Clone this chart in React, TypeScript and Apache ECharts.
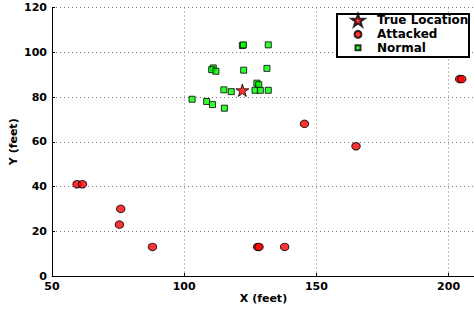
import React, { useEffect, useRef } from "react";
import * as echarts from "echarts";

const trueX = [122];
const trueY = [83];

const attackedX = [59.5, 61.5, 76, 75.5, 88, 127.8, 128.3, 138, 145.5, 165, 204.2, 205];
const attackedY = [41, 41, 30, 23, 13, 13, 13, 13, 68, 58, 88, 88];

const normalX = [103, 108.5, 110.7, 115.2, 115, 117.8, 111, 110.4, 112, 122, 122.4, 131.8, 122.5, 131.3, 127.5, 128.2, 126.8, 128.8, 131.8];
const normalY = [79, 78, 76.6, 75, 83.2, 82.4, 93, 92.2, 91.5, 103, 103.3, 103.3, 92, 92.8, 86.2, 85.5, 83, 83, 83];

const xTicks = [50, 100, 150, 200];
const yTicks = [0, 20, 40, 60, 80, 100, 120];

const FONT = "DejaVu Sans";
const STAR = "path://M0,-10L2.245,-3.09L9.511,-3.09L3.633,1.18L5.878,8.09L0,3.82L-5.878,8.09L-3.633,1.18L-9.511,-3.09L-2.245,-3.09Z";

const zip = (xs: number[], ys: number[]) => xs.map((x, i) => [x, ys[i]]);

export default function App() {
  const ref = useRef<HTMLDivElement>(null);
  useEffect(() => {
    if (!ref.current) return;
    const chart = echarts.init(ref.current, undefined, { renderer: "svg" });
    const iconCenter = 357;
    const textLeft = 376;
    const mkLegend = (name: string, icon: string, w: number, h: number, centerY: number) => ({
      show: true,
      orient: "vertical",
      left: iconCenter - w / 2,
      top: centerY - 7,
      padding: 0,
      itemWidth: w,
      itemHeight: h,
      selectedMode: false,
      textStyle: {
        fontFamily: FONT,
        fontWeight: "bold",
        fontSize: 12,
        color: "#000",
        lineHeight: 14,
        padding: [0, 0, 0, textLeft - (iconCenter + w / 2 + 5)],
      },
      data: [{ name, icon }],
    });
    chart.setOption({
      animation: false,
      backgroundColor: "#fff",
      grid: { left: 52, top: 7.5, bottom: 36, width: 423, containLabel: false, outerBoundsMode: "none" },
      xAxis: {
        type: "value",
        min: xTicks[0],
        max: 210,
        interval: 50,
        name: "X (feet)",
        nameLocation: "middle",
        nameGap: 17,
        nameMoveOverlap: false,
        nameTextStyle: { fontFamily: FONT, fontWeight: "bold", fontSize: 11, color: "#000" },
        axisLine: { show: true, onZero: false, lineStyle: { color: "#000", width: 1 } },
        axisTick: { show: true, inside: true, length: 3, lineStyle: { color: "#000" } },
        axisLabel: {
          margin: 5,
          fontFamily: FONT,
          fontWeight: "bold",
          fontSize: 11,
          color: "#000",
          formatter: (v: number) => (xTicks.includes(v) ? String(v) : ""),
        },
        splitLine: { show: true, lineStyle: { color: "#777", type: [1, 3], width: 1 } },
      },
      yAxis: {
        type: "value",
        min: yTicks[0],
        max: yTicks[yTicks.length - 1],
        interval: 20,
        name: "Y (feet)",
        nameLocation: "middle",
        nameGap: 33,
        nameMoveOverlap: false,
        nameTextStyle: { fontFamily: FONT, fontWeight: "bold", fontSize: 11, color: "#000" },
        axisLine: { show: true, onZero: false, lineStyle: { color: "#000", width: 1 } },
        axisTick: { show: true, inside: true, length: 3, lineStyle: { color: "#000" } },
        axisLabel: { margin: 5, fontFamily: FONT, fontWeight: "bold", fontSize: 11, color: "#000" },
        splitLine: { show: true, lineStyle: { color: "#777", type: [1, 3], width: 1 } },
      },
      legend: [
        mkLegend("True Location", STAR, 13, 13, 20),
        mkLegend("Attacked", "circle", 7, 7, 34.3),
        mkLegend("Normal", "rect", 5, 5, 47.7),
      ],
      graphic: [
        {
          type: "rect",
          z: 3,
          shape: { x: 337, y: 14, width: 132, height: 43 },
          style: { fill: "#fff", stroke: "#000", lineWidth: 2 },
        },
      ],
      series: [
        {
          name: "Normal",
          type: "scatter",
          symbol: "rect",
          symbolSize: 6,
          itemStyle: { color: "#00ff00", borderColor: "#000", borderWidth: 1 },
          data: zip(normalX, normalY),
          z: 2,
        },
        {
          name: "Attacked",
          type: "scatter",
          symbol: "circle",
          symbolSize: [8.5, 7.5],
          itemStyle: { color: "#ff0000", borderColor: "#000", borderWidth: 1 },
          data: zip(attackedX, attackedY),
          z: 2,
        },
        {
          name: "True Location",
          type: "scatter",
          symbol: STAR,
          symbolSize: 13,
          symbolKeepAspect: true,
          itemStyle: { color: "#ff0000", borderColor: "#000", borderWidth: 1 },
          data: zip(trueX, trueY),
          z: 2,
        },
      ],
    });
    return () => chart.dispose();
  }, []);
  return (
    <div
      ref={ref}
      style={{ position: "fixed", left: 0, top: 0, width: 474, height: 312, background: "#fff" }}
    />
  );
}
